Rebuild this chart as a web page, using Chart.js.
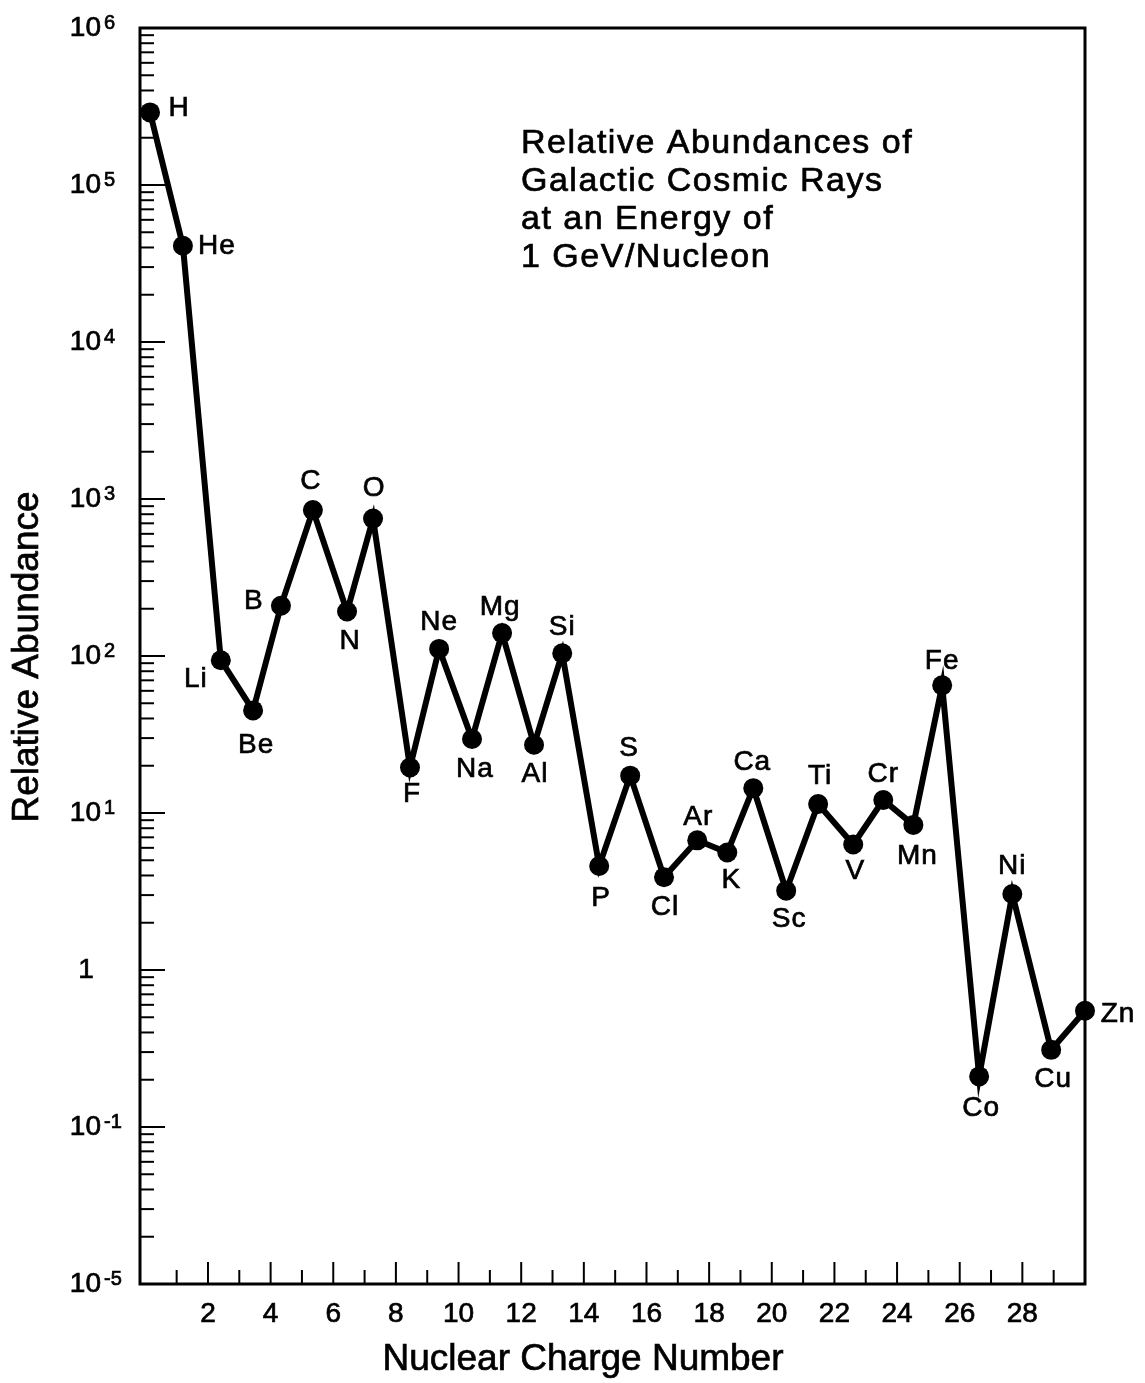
<!DOCTYPE html>
<html>
<head>
<meta charset="utf-8">
<script src="https://cdn.jsdelivr.net/npm/chart.js@4.4.1/dist/chart.umd.min.js"></script>
<style>
  html, body { margin: 0; padding: 0; background: #fff; }
  #wrap { width: 1145px; height: 1383px; }
</style>
</head>
<body>
<div id="wrap"><canvas id="cosmic" width="1145" height="1383"></canvas></div>
<script>
// element symbols, where they sit on the charge axis, and their abundances
const elements = ['H','He','Li','Be','B','C','N','O','F','Ne','Na','Mg','Al','Si','P',
                  'S','Cl','Ar','K','Ca','Sc','Ti','V','Cr','Mn','Fe','Co','Ni','Cu','Zn']
const charge = [0.15, 1.20, 2.41, 3.44, 4.33, 5.35, 6.44, 7.27, 8.45, 9.38,
                10.43, 11.39, 12.41, 13.31, 14.49, 15.48, 16.56, 17.62, 18.58, 19.41,
                20.46, 21.48, 22.60, 23.56, 24.52, 25.44, 26.62, 27.68, 28.92, 30.0]
const abundance = [2.9e5, 4.1e4, 94, 45, 209, 850, 192, 750, 19.5, 111,
                   29.6, 140, 27.2, 104, 4.6, 17.3, 3.9, 6.7, 5.6, 14.4,
                   3.2, 11.4, 6.3, 12.1, 8.4, 65, 0.21, 3.05, 0.31, 0.55]

const xTicks = [2, 4, 6, 8, 10, 12, 14, 16, 18, 20, 22, 24, 26, 28]
const yTicks = [1e6, 1e5, 1e4, 1e3, 1e2, 1e1, 1, 0.1, 0.01]
// the bottom decade of the original axis is broken: it is labelled 10^-5
const yTickLabels = ['10^6', '10^5', '10^4', '10^3', '10^2', '10^1', '1', '10^-1', '10^-5']

const titleLines = ['Relative Abundances of', 'Galactic Cosmic Rays', 'at an Energy of', '1 GeV/Nucleon']

// where each symbol sits relative to its dot (px)
const labelShift = [[29,-4],[34,0],[-25,19],[3,35],[-27,-4],[-2,-29],[3,30],[1,-30],[2,27],[0,-27],
                    [3,30],[-2,-26],[1,30],[0,-26],[2,32],[-1,-27],[1,30],[1,-23],[4,28],[-1,-26],
                    [3,29],[2,-28],[2,27],[0,-26],[4,31],[0,-24],[2,32],[0,-28],[2,29],[33,4]]

const FONT = "'Liberation Sans', Arial, Helvetica, sans-serif"

// scanned print looks a little heavy, so text gets a thin outline too
function ink(ctx, txt, x, y) {
  ctx.fillText(txt, x, y)
  ctx.strokeText(txt, x, y)
}

const decor = {
  id: 'decor',
  afterDraw(chart) {
    const ctx = chart.ctx
    const a = chart.chartArea
    const xs = chart.scales.x
    const ys = chart.scales.y
    ctx.save()
    ctx.strokeStyle = '#000'
    ctx.fillStyle = '#000'

    // frame
    ctx.lineWidth = 3
    ctx.strokeRect(a.left, a.top, a.right - a.left, a.bottom - a.top)

    // log ticks on the left, pointing inwards
    ctx.lineWidth = 2
    for (let d = -2; d < 6; d++) {
      for (let m = 1; m < 10; m++) {
        const y = ys.getPixelForValue(m * Math.pow(10, d))
        const len = m === 1 ? 25 : 14
        ctx.beginPath()
        ctx.moveTo(a.left, y)
        ctx.lineTo(a.left + len, y)
        ctx.stroke()
      }
    }
    // charge ticks on the bottom
    for (let z = 1; z < 30; z++) {
      const x = xs.getPixelForValue(z)
      const len = z % 2 === 0 ? 22 : 14
      ctx.beginPath()
      ctx.moveTo(x, a.bottom)
      ctx.lineTo(x, a.bottom - len)
      ctx.stroke()
    }

    ctx.lineWidth = 0.7
    // y tick labels with raised exponents
    yTicks.forEach((v, i) => {
      const y = ys.getPixelForValue(v)
      const parts = yTickLabels[i].split('^')
      if (parts.length === 1) {
        ctx.font = '28px ' + FONT
        ctx.textAlign = 'center'
        ctx.textBaseline = 'middle'
        ink(ctx, parts[0], a.left - 54, y)
      } else {
        ctx.font = '28px ' + FONT
        ctx.textAlign = 'right'
        ctx.textBaseline = 'middle'
        ink(ctx, parts[0], a.left - 39, y)
        ctx.font = '20px ' + FONT
        ctx.textAlign = 'left'
        ctx.textBaseline = 'alphabetic'
        ink(ctx, parts[1], a.left - 36, y + 1)
      }
    })

    // x tick labels
    ctx.font = '28px ' + FONT
    ctx.textAlign = 'center'
    ctx.textBaseline = 'middle'
    xTicks.forEach(t => ink(ctx, String(t), xs.getPixelForValue(t), a.bottom + 30))

    // axis titles
    ctx.font = '37px ' + FONT
    ink(ctx, 'Nuclear Charge Number', 583, a.bottom + 76)
    ctx.save()
    ctx.translate(28, 657)
    ctx.rotate(-Math.PI / 2)
    ink(ctx, 'Relative Abundance', 0, 0)
    ctx.restore()

    // element symbols
    const pts = chart.getDatasetMeta(0).data
    ctx.font = '28px ' + FONT
    ctx.letterSpacing = '1px'
    pts.forEach((p, i) => {
      ink(ctx, elements[i], p.x + labelShift[i][0], p.y + labelShift[i][1])
    })

    // caption block
    ctx.font = '34px ' + FONT
    ctx.letterSpacing = '1.5px'
    ctx.textAlign = 'left'
    ctx.textBaseline = 'alphabetic'
    titleLines.forEach((t, i) => ink(ctx, t, 521, 153 + i * 38))
    ctx.restore()
  }
}

new Chart(document.getElementById('cosmic'), {
  type: 'line',
  data: {
    datasets: [{
      data: charge.map((z, i) => ({ x: z, y: abundance[i] })),
      borderColor: '#000',
      backgroundColor: '#000',
      borderWidth: 6,
      pointRadius: 10,
      pointBackgroundColor: '#000',
      pointBorderWidth: 0,
      tension: 0,
      clip: false
    }]
  },
  options: {
    responsive: false,
    animation: false,
    layout: { padding: { left: 140, right: 60, top: 28, bottom: 99 } },
    plugins: { legend: { display: false }, tooltip: { enabled: false } },
    scales: {
      x: { type: 'linear', min: -0.17, max: 30, display: false },
      y: { type: 'logarithmic', min: 0.01, max: 1e6, display: false }
    }
  },
  plugins: [decor]
})
</script>
</body>
</html>
